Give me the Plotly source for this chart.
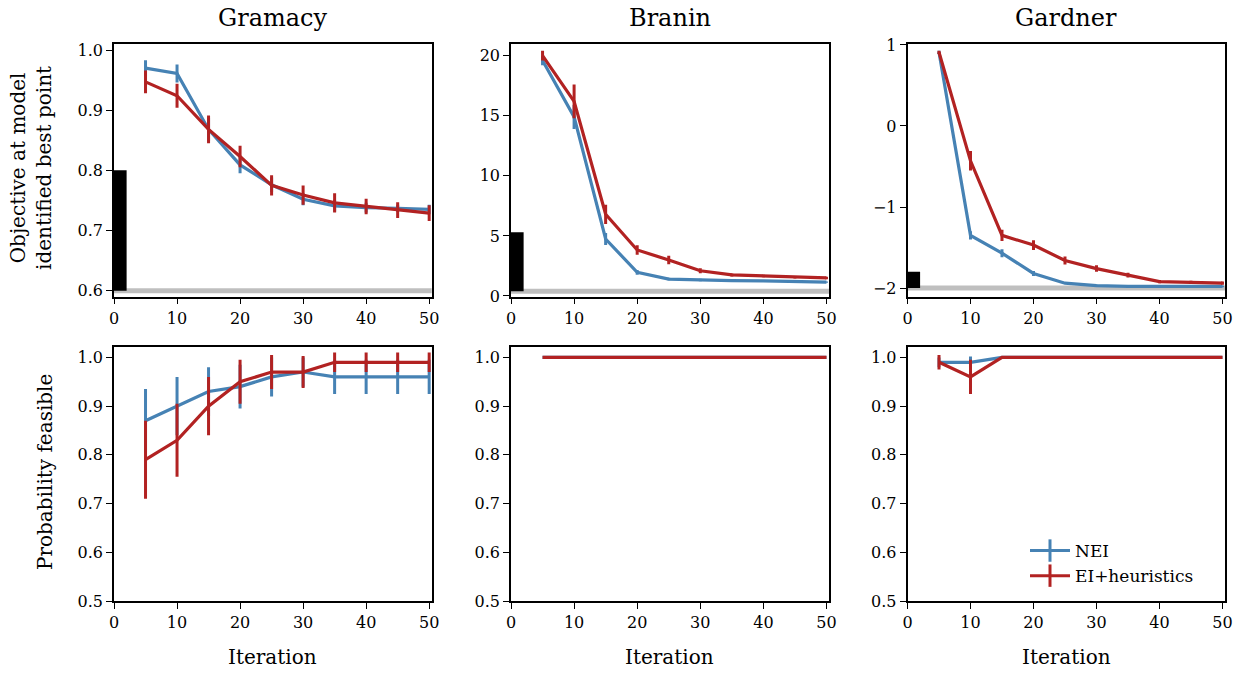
import plotly.graph_objects as go

# ---------------- data ----------------
iterations = [5, 10, 15, 20, 25, 30, 35, 40, 45, 50]
problems = ["Gramacy", "Branin", "Gardner"]

gramacy_obj_nei = [0.970, 0.961, 0.868, 0.809, 0.776, 0.752, 0.741, 0.738, 0.737, 0.735]
gramacy_obj_nei_err = [0.013, 0.015, 0.020, 0.014, 0.012, 0.010, 0.010, 0.008, 0.006, 0.008]
gramacy_obj_ei = [0.947, 0.924, 0.868, 0.823, 0.775, 0.759, 0.746, 0.740, 0.734, 0.729]
gramacy_obj_ei_err = [0.019, 0.020, 0.023, 0.018, 0.017, 0.016, 0.016, 0.013, 0.013, 0.013]

branin_obj_nei = [19.6, 14.9, 4.74, 1.97, 1.41, 1.33, 1.28, 1.25, 1.19, 1.16]
branin_obj_nei_err = [0.4, 1.0, 0.5, 0.2, 0.1, 0.1, 0.05, 0.05, 0.05, 0.05]
branin_obj_ei = [20.0, 16.2, 6.8, 3.83, 3.0, 2.1, 1.75, 1.66, 1.55, 1.50]
branin_obj_ei_err = [0.4, 1.4, 0.8, 0.4, 0.35, 0.2, 0.12, 0.1, 0.1, 0.1]

gardner_obj_nei = [0.91, -1.35, -1.57, -1.82, -1.94, -1.97, -1.98, -1.98, -1.98, -1.98]
gardner_obj_nei_err = [0.02, 0.05, 0.05, 0.03, 0.01, 0.01, 0.01, 0.01, 0.01, 0.01]
gardner_obj_ei = [0.91, -0.43, -1.35, -1.47, -1.66, -1.76, -1.84, -1.92, -1.93, -1.94]
gardner_obj_ei_err = [0.02, 0.12, 0.07, 0.06, 0.05, 0.04, 0.03, 0.02, 0.02, 0.02]

gramacy_feas_nei = [0.87, 0.90, 0.93, 0.94, 0.96, 0.97, 0.96, 0.96, 0.96, 0.96]
gramacy_feas_nei_err = [0.065, 0.06, 0.05, 0.045, 0.04, 0.03, 0.035, 0.035, 0.035, 0.035]
gramacy_feas_ei = [0.79, 0.83, 0.90, 0.95, 0.97, 0.97, 0.99, 0.99, 0.99, 0.99]
gramacy_feas_ei_err = [0.08, 0.075, 0.06, 0.045, 0.035, 0.033, 0.02, 0.02, 0.02, 0.02]

branin_feas_nei = [1.0, 1.0, 1.0, 1.0, 1.0, 1.0, 1.0, 1.0, 1.0, 1.0]
branin_feas_nei_err = [0, 0, 0, 0, 0, 0, 0, 0, 0, 0]
branin_feas_ei = [1.0, 1.0, 1.0, 1.0, 1.0, 1.0, 1.0, 1.0, 1.0, 1.0]
branin_feas_ei_err = [0, 0, 0, 0, 0, 0, 0, 0, 0, 0]

gardner_feas_nei = [0.99, 0.99, 1.0, 1.0, 1.0, 1.0, 1.0, 1.0, 1.0, 1.0]
gardner_feas_nei_err = [0.01, 0.012, 0, 0, 0, 0, 0, 0, 0, 0]
gardner_feas_ei = [0.99, 0.96, 1.0, 1.0, 1.0, 1.0, 1.0, 1.0, 1.0, 1.0]
gardner_feas_ei_err = [0.015, 0.035, 0, 0, 0, 0, 0, 0, 0, 0]

# optimum value (gray line) and initial-design bar (black)
optimum = [0.5998, 0.398, -2.0]
init_bar_top = [0.8, 5.3, -1.8]
init_bar_x = [1, 1, 1]
init_bar_width = [2, 2, 2]

obj_nei = [gramacy_obj_nei, branin_obj_nei, gardner_obj_nei]
obj_nei_err = [gramacy_obj_nei_err, branin_obj_nei_err, gardner_obj_nei_err]
obj_ei = [gramacy_obj_ei, branin_obj_ei, gardner_obj_ei]
obj_ei_err = [gramacy_obj_ei_err, branin_obj_ei_err, gardner_obj_ei_err]
feas_nei = [gramacy_feas_nei, branin_feas_nei, gardner_feas_nei]
feas_nei_err = [gramacy_feas_nei_err, branin_feas_nei_err, gardner_feas_nei_err]
feas_ei = [gramacy_feas_ei, branin_feas_ei, gardner_feas_ei]
feas_ei_err = [gramacy_feas_ei_err, branin_feas_ei_err, gardner_feas_ei_err]

top_ranges = [[0.590, 1.010], [-0.06, 20.97], [-2.107, 1.012]]
top_ticks = [[0.6, 0.7, 0.8, 0.9, 1.0], [0, 5, 10, 15, 20], [-2, -1, 0, 1]]
top_ticktext = [["0.6", "0.7", "0.8", "0.9", "1.0"], ["0", "5", "10", "15", "20"],
                ["\u22122", "\u22121", "0", "1"]]
bottom_range = [0.5, 1.022]
bottom_ticks = [0.5, 0.6, 0.7, 0.8, 0.9, 1.0]
x_range = [0, 50.4]
x_ticks = [0, 10, 20, 30, 40, 50]

# ---------------- style ----------------
W, H = 1242, 673
BLUE = "#4682b4"
RED = "#b22222"
FONT = "DejaVu Serif"
col_px = [(114, 431.7), (511, 829), (907.5, 1225)]
row_px = [(44, 296.7), (346.7, 601)]

fig = go.Figure()
layout = dict(
    width=W, height=H, margin=dict(l=0, r=0, t=0, b=0, autoexpand=False),
    paper_bgcolor="white", plot_bgcolor="white",
    font=dict(family=FONT, size=16, color="black"),
    showlegend=True,
    legend=dict(x=1025 / W, y=1 - 533 / H, xanchor="left", yanchor="top",
                font=dict(family=FONT, size=17), bgcolor="rgba(255,255,255,0)",
                itemwidth=40, tracegroupgap=0),
    shapes=[], annotations=[],
)

def axis_common():
    return dict(showline=True, linecolor="black", linewidth=1.5, mirror=True,
                ticks="outside", ticklen=6, tickwidth=1.3, tickcolor="black",
                showgrid=False, zeroline=False, automargin=False,
                tickfont=dict(family=FONT, size=16, color="black"))

idx = 0
for r in range(2):
    for c in range(3):
        idx += 1
        xa = "x" if idx == 1 else f"x{idx}"
        ya = "y" if idx == 1 else f"y{idx}"
        xkey = "xaxis" if idx == 1 else f"xaxis{idx}"
        ykey = "yaxis" if idx == 1 else f"yaxis{idx}"
        x0, x1 = col_px[c]
        y0, y1 = row_px[r]
        xd = axis_common()
        xd.update(domain=[x0 / W, x1 / W], range=x_range, tickvals=x_ticks, anchor=ya)
        yd = axis_common()
        yd.update(domain=[1 - y1 / H, 1 - y0 / H], anchor=xa)
        if r == 0:
            yd.update(range=top_ranges[c], tickvals=top_ticks[c], ticktext=top_ticktext[c])
            # optimum line
            layout["shapes"].append(dict(type="line", xref=f"{xa} domain", yref=ya,
                                         x0=0, x1=1, y0=optimum[c], y1=optimum[c],
                                         line=dict(color="#bfbfbf", width=5), layer="below"))
            fig.add_trace(go.Bar(x=[init_bar_x[c]], y=[init_bar_top[c] - optimum[c]],
                                 base=[optimum[c]], width=[init_bar_width[c]],
                                 marker=dict(color="black", line=dict(width=0)),
                                 showlegend=False, xaxis=xa, yaxis=ya, hoverinfo="skip"))
            ys_n, es_n, ys_e, es_e = obj_nei[c], obj_nei_err[c], obj_ei[c], obj_ei_err[c]
        else:
            yd.update(range=bottom_range, tickvals=bottom_ticks,
                      ticktext=[f"{v:.1f}" for v in bottom_ticks])
            ys_n, es_n, ys_e, es_e = feas_nei[c], feas_nei_err[c], feas_ei[c], feas_ei_err[c]
        layout[xkey] = xd
        layout[ykey] = yd
        fig.add_trace(go.Scatter(x=iterations, y=ys_n, mode="lines", name="NEI",
                                 line=dict(color=BLUE, width=3.2),
                                 error_y=dict(type="data", array=es_n, color=BLUE,
                                              thickness=3, width=0),
                                 showlegend=False, xaxis=xa, yaxis=ya))
        fig.add_trace(go.Scatter(x=iterations, y=ys_e, mode="lines", name="EI+heuristics",
                                 line=dict(color=RED, width=3.2),
                                 error_y=dict(type="data", array=es_e, color=RED,
                                              thickness=3, width=0),
                                 showlegend=False, xaxis=xa, yaxis=ya))

# legend entries (line with error-bar glyph)
for name, col in [("NEI", BLUE), ("EI+heuristics", RED)]:
    fig.add_trace(go.Scatter(x=[None], y=[None], mode="lines+markers", name=name,
                             line=dict(color=col, width=3),
                             marker=dict(symbol="line-ns", size=16,
                                         line=dict(color=col, width=3)),
                             xaxis="x6", yaxis="y6", showlegend=True))

# titles
for c in range(3):
    cx = (col_px[c][0] + col_px[c][1]) / 2
    layout["annotations"].append(dict(text=problems[c], x=cx / W, y=1 - 18 / H,
                                      xref="paper", yref="paper", showarrow=False,
                                      xanchor="center", yanchor="middle",
                                      font=dict(family=FONT, size=24)))
    layout["annotations"].append(dict(text="Iteration", x=cx / W, y=1 - 657 / H,
                                      xref="paper", yref="paper", showarrow=False,
                                      xanchor="center", yanchor="middle",
                                      font=dict(family=FONT, size=20)))
layout["annotations"].append(dict(text="Objective at model<br>identified best point",
                                  x=31 / W, y=1 - 168 / H, xref="paper", yref="paper",
                                  showarrow=False, textangle=-90, xanchor="center",
                                  yanchor="middle", font=dict(family=FONT, size=20)))
layout["annotations"].append(dict(text="Probability feasible",
                                  x=45 / W, y=1 - 472 / H, xref="paper", yref="paper",
                                  showarrow=False, textangle=-90, xanchor="center",
                                  yanchor="middle", font=dict(family=FONT, size=20)))

fig.update_layout(**layout)
fig.write_html("out.html")
